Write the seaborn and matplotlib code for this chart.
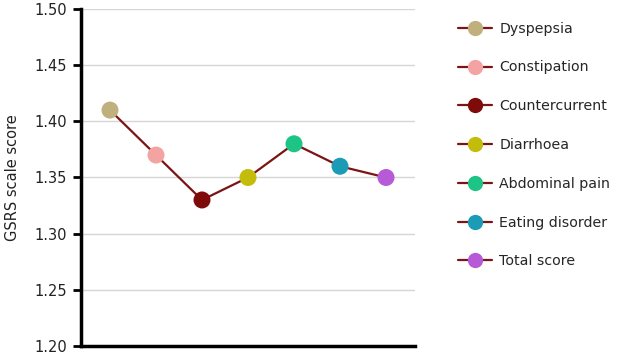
import matplotlib
matplotlib.use("Agg")
import matplotlib.pyplot as plt
from matplotlib.lines import Line2D
import pandas as pd
import seaborn as sns

# Values
categories = ["Dyspepsia", "Constipation", "Countercurrent", "Diarrhoea",
              "Abdominal pain", "Eating disorder", "Total score"]
scores = [1.41, 1.37, 1.33, 1.35, 1.38, 1.36, 1.35]
colors = ["#BFB07E", "#F4A3A3", "#7E0A0A", "#C4BC0A",
          "#1EC486", "#1B9BB5", "#B65AD8"]
yticks = [1.20, 1.25, 1.30, 1.35, 1.40, 1.45, 1.50]

LINE_COLOR = "#7B1414"

df = pd.DataFrame({"pos": range(len(categories)), "score": scores, "group": categories})

sns.set_style("white")
plt.rcParams["font.family"] = ["DejaVu Sans"]

fig = plt.figure(figsize=(6.17, 3.55), dpi=100)
ax = fig.add_axes([81 / 617, 9 / 355, (415 - 81) / 617, (346 - 9) / 355])

for y in yticks[1:]:
    ax.axhline(y, color="#d6d6d6", linewidth=1, zorder=0)

sns.lineplot(data=df, x="pos", y="score", color=LINE_COLOR, linewidth=1.6, ax=ax, zorder=2)
sns.scatterplot(data=df, x="pos", y="score", hue="group", palette=colors,
                s=150, edgecolor="none", linewidth=0, ax=ax, zorder=3, legend=False)

ax.set_xlim(-0.63, 6.63)
ax.set_ylim(1.20, 1.50)
ax.set_yticks(yticks)
ax.set_yticklabels([f"{v:.2f}" for v in yticks], fontsize=10.5, color="#222222")
ax.set_xticks([])
ax.set_xlabel("")
ax.set_ylabel("GSRS scale score", fontsize=10.5, color="#222222", labelpad=10)

for side in ["top", "right"]:
    ax.spines[side].set_visible(False)
for side in ["left", "bottom"]:
    ax.spines[side].set_linewidth(2.5)
    ax.spines[side].set_color("black")
ax.tick_params(axis="y", direction="out", length=6, width=2, color="black", left=True, pad=4)

handles = [Line2D([0], [0], color=LINE_COLOR, linewidth=1.6, marker="o",
                  markersize=11, markerfacecolor=c, markeredgecolor="none")
           for c in colors]
fig.legend(handles, categories, loc="upper left", bbox_to_anchor=(452 / 617, 1 - 16 / 355),
           frameon=False, fontsize=10.2, handlelength=2.4, labelspacing=1.75,
           handletextpad=0.55, borderaxespad=0)

fig.savefig("out.png", dpi=100)
